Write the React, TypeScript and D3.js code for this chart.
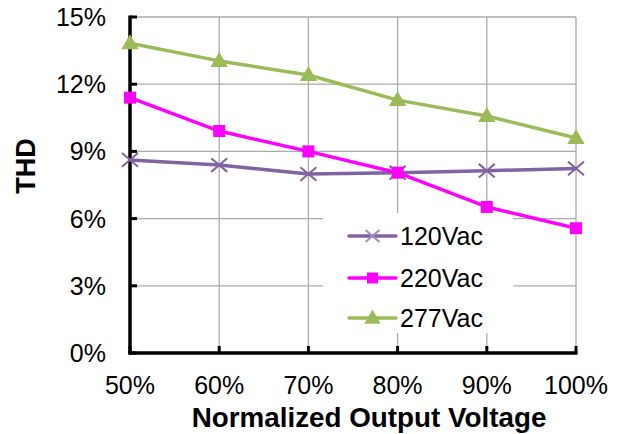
import React from "react";
import * as d3 from "d3";

const categories = ["50%", "60%", "70%", "80%", "90%", "100%"];
const yTicks = [0, 3, 6, 9, 12, 15];
const s120 = [8.62, 8.39, 7.99, 8.05, 8.14, 8.24];
const s220 = [11.4, 9.91, 9.0, 8.05, 6.52, 5.57];
const s277 = [13.83, 13.04, 12.41, 11.29, 10.58, 9.6];
const seriesNames = ["120Vac", "220Vac", "277Vac"];
const seriesColors = ["#8064A2", "#FF00FF", "#9BBB59"];
const seriesMarkers = ["x", "square", "triangle"];

const W = 617, H = 434;
const left = 130, right = 576, top = 17, bottom = 353;
const FONT = "Liberation Sans, Arial, sans-serif";

function Marker({ type, x, y, color, size }: { type: string; x: number; y: number; color: string; size: number }) {
  if (type === "x") {
    const s = size / 2;
    return (
      <g stroke={color} strokeWidth={2}>
        <line x1={x - s} y1={y - s * 0.85} x2={x + s} y2={y + s * 0.85} />
        <line x1={x - s} y1={y + s * 0.85} x2={x + s} y2={y - s * 0.85} />
      </g>
    );
  }
  if (type === "square") {
    return <rect x={x - size / 2} y={y - size / 2} width={size} height={size} fill={color} />;
  }
  const sym = d3.symbol().type(d3.symbolTriangle).size(size * size * 0.45)();
  return <path d={sym || ""} transform={`translate(${x},${y + 1})`} fill={color} />;
}

export default function App() {
  const x = d3.scalePoint<string>().domain(categories).range([left, right]);
  const y = d3.scaleLinear().domain([0, 15]).range([bottom, top]);
  const data = [s120, s220, s277];
  const line = d3
    .line<number>()
    .x((_, i) => x(categories[i]) as number)
    .y((d) => y(d));

  const legendX1 = 349, legendX2 = 396;
  const legendYs = [236, 278, 318];

  return (
    <svg width={W} height={H} style={{ position: "absolute", left: 0, top: 0, background: "#fff" }} fontFamily={FONT}>
      <rect x={0} y={0} width={W} height={H} fill="#fff" />
      {/* grid */}
      {yTicks.map((t) => (
        <line key={"gy" + t} x1={left} x2={right} y1={y(t)} y2={y(t)} stroke="#ababab" strokeWidth={1.3} />
      ))}
      {categories.map((c) => (
        <line key={"gx" + c} x1={x(c)} x2={x(c)} y1={top} y2={bottom} stroke="#ababab" strokeWidth={1.3} />
      ))}
      {/* legend background */}
      <rect x={323} y={213} width={190} height={120} fill="#fff" />
      {/* axes */}
      <line x1={left} x2={left} y1={top - 1.5} y2={bottom + 1.5} stroke="#000" strokeWidth={3.5} />
      <line x1={left - 1.5} x2={right + 1.5} y1={bottom} y2={bottom} stroke="#000" strokeWidth={3.5} />
      {yTicks.map((t) => (
        <line key={"ty" + t} x1={left} x2={left + 7} y1={y(t)} y2={y(t)} stroke="#000" strokeWidth={3} />
      ))}
      {categories.map((c) => (
        <line key={"tx" + c} x1={x(c)} x2={x(c)} y1={bottom} y2={bottom - 7} stroke="#000" strokeWidth={3} />
      ))}
      {/* tick labels */}
      {yTicks.map((t) => (
        <text key={"ly" + t} x={106} y={y(t)} dy="0.36em" textAnchor="end" fontSize={25} fill="#000">
          {t + "%"}
        </text>
      ))}
      {categories.map((c) => (
        <text key={"lx" + c} x={x(c)} y={394} textAnchor="middle" fontSize={25} fill="#000">
          {c}
        </text>
      ))}
      {/* axis titles */}
      <text x={369} y={427} textAnchor="middle" fontSize={27.8} fontWeight="bold" fill="#000">
        Normalized Output Voltage
      </text>
      <text transform="translate(35,166) rotate(-90)" textAnchor="middle" fontSize={27} fontWeight="bold" fill="#000">
        THD
      </text>
      {/* series */}
      {data.map((vals, si) => (
        <g key={"s" + si}>
          <path d={line(vals) || ""} fill="none" stroke={seriesColors[si]} strokeWidth={3.5} strokeLinejoin="round" />
          {vals.map((v, i) => (
            <Marker
              key={i}
              type={seriesMarkers[si]}
              x={x(categories[i]) as number}
              y={y(v)}
              color={seriesColors[si]}
              size={seriesMarkers[si] === "square" ? 12 : seriesMarkers[si] === "x" ? 16 : 17}
            />
          ))}
        </g>
      ))}
      {/* legend */}
      {seriesNames.map((n, i) => (
        <g key={"lg" + n}>
          <line x1={legendX1} x2={legendX2} y1={legendYs[i]} y2={legendYs[i]} stroke={seriesColors[i]} strokeWidth={3.5} strokeLinecap="round" />
          <Marker
            type={seriesMarkers[i]}
            x={(legendX1 + legendX2) / 2}
            y={legendYs[i]}
            color={seriesMarkers[i] === "x" ? "#a08cc0" : seriesColors[i]}
            size={seriesMarkers[i] === "square" ? 11 : seriesMarkers[i] === "x" ? 14 : 16}
          />
          <text x={400} y={legendYs[i]} dy="0.36em" fontSize={25} fill="#000">
            {n}
          </text>
        </g>
      ))}
    </svg>
  );
}
